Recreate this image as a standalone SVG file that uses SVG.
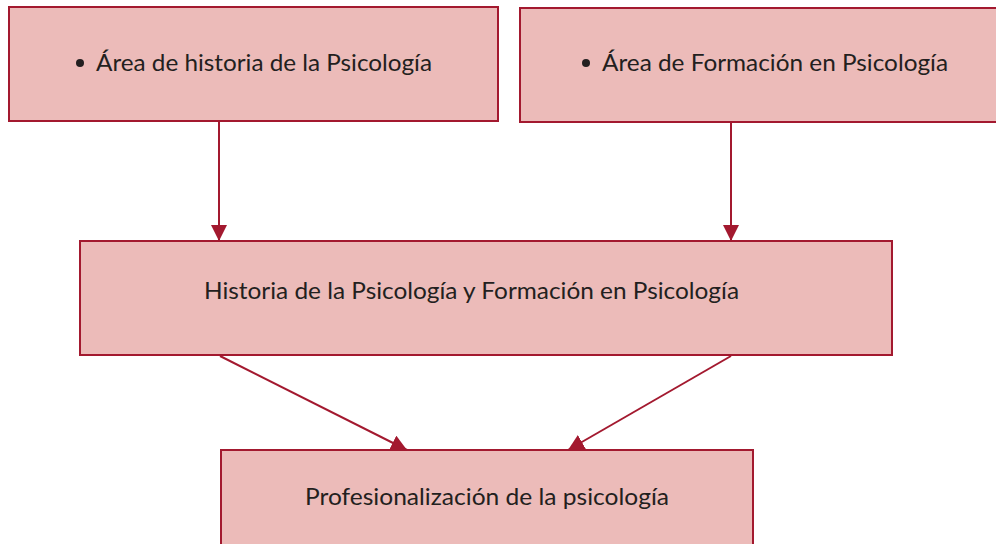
<svg xmlns="http://www.w3.org/2000/svg" width="996" height="544" viewBox="0 0 996 544">
<style>
.box{fill:#ecbbb9;stroke:#a3192f;stroke-width:2}
.t{font-family:"Lato","Open Sans","Liberation Sans",sans-serif;font-size:23px;fill:#231f20}
.c{stroke:#a3192f;stroke-width:2;fill:none}
</style>
<defs>
<marker id="ah2" viewBox="0 0 16 16" refX="16" refY="8" markerWidth="16" markerHeight="16" markerUnits="userSpaceOnUse" orient="auto">
<path d="M0,0 L16,8 L0,16 z" fill="#a3192f"/>
</marker>
</defs>
<g id="n1">
<rect class="box" x="9" y="7" width="489" height="114"/>
<circle cx="80" cy="63" r="4" fill="#231f20"/>
<text class="t" x="96" y="71" textLength="336" lengthAdjust="spacingAndGlyphs">Área de historia de la Psicología</text>
</g>
<g id="n2">
<rect class="box" x="520" y="8" width="480" height="114"/>
<circle cx="586" cy="63" r="4" fill="#231f20"/>
<text class="t" x="602" y="71" textLength="346" lengthAdjust="spacingAndGlyphs">Área de Formación en Psicología</text>
</g>
<g id="n3">
<rect class="box" x="80" y="241" width="812" height="114"/>
<text class="t" x="204" y="299" textLength="535" lengthAdjust="spacingAndGlyphs">Historia de la Psicología y Formación en Psicología</text>
</g>
<g id="n4">
<rect class="box" x="221" y="450" width="532" height="110"/>
<text class="t" x="305" y="505" textLength="364" lengthAdjust="spacingAndGlyphs">Profesionalización de la psicología</text>
</g>
<g id="connectors">
<line class="c" x1="219" y1="122" x2="219" y2="241" marker-end="url(#ah2)"/>
<line class="c" x1="731" y1="122" x2="731" y2="241" marker-end="url(#ah2)"/>
<line class="c" x1="220" y1="356" x2="407" y2="450" marker-end="url(#ah2)"/>
<line class="c" x1="731" y1="356" x2="568" y2="450" marker-end="url(#ah2)"/>
</g>
</svg>
